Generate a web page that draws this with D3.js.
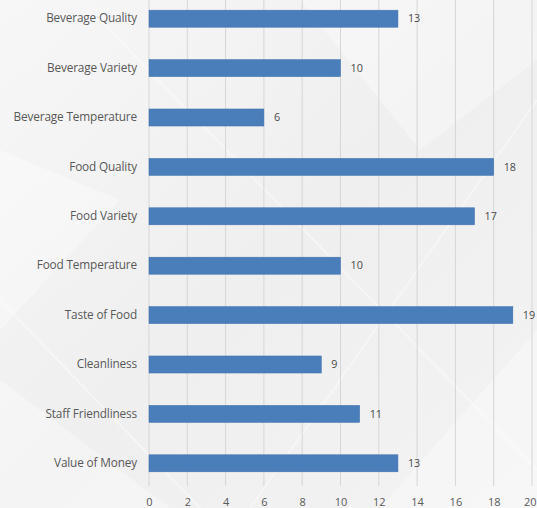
<!DOCTYPE html>
<html>
<head>
<meta charset="utf-8">
<script src="https://cdn.jsdelivr.net/npm/d3@7"></script>
<style>
  body { margin: 0; }
  svg { display: block; }
</style>
</head>
<body>
<div id="chart"></div>
<script>
"use strict"

const categories = ["Beverage Quality", "Beverage Variety", "Beverage Temperature",
  "Food Quality", "Food Variety", "Food Temperature", "Taste of Food",
  "Cleanliness", "Staff Friendliness", "Value of Money"]
const values = [13, 10, 6, 18, 17, 10, 19, 9, 11, 13]
const xTicks = [0, 2, 4, 6, 8, 10, 12, 14, 16, 18, 20]

const W = 537, H = 508
const plot = {left: 149, right: 532, top: -6, bottom: 488}
const font = "'Open Sans', 'Noto Sans', sans-serif"

const svg = d3.select("#chart").append("svg")
  .attr("width", W).attr("height", H)

// background with soft diagonal shapes
const defs = svg.append("defs")
const bg = defs.append("linearGradient").attr("id", "bg")
  .attr("x1", "0").attr("y1", "0").attr("x2", "1").attr("y2", "1")
bg.append("stop").attr("offset", "0").attr("stop-color", "#f7f7f7")
bg.append("stop").attr("offset", "0.5").attr("stop-color", "#efefef")
bg.append("stop").attr("offset", "1").attr("stop-color", "#f3f3f3")
svg.append("rect").attr("width", W).attr("height", H).attr("fill", "url(#bg)")

const shapes = [
  [[0, 150], [120, 200], [0, 330]],
  [[0, 380], [170, 508], [0, 508]],
  [[300, 0], [537, 0], [537, 60], [420, 150]],
  [[380, 508], [537, 330], [537, 508]]
]
svg.append("g").selectAll("path").data(shapes).join("path")
  .attr("d", d => "M" + d.join("L") + "Z")
  .attr("fill", "#ffffff").attr("opacity", 0.35)

const lines = [[[100, 20], [537, 470]], [[537, 100], [250, 508]], [[0, 300], [200, 508]]]
svg.append("g").selectAll("line").data(lines).join("line")
  .attr("x1", d => d[0][0]).attr("y1", d => d[0][1])
  .attr("x2", d => d[1][0]).attr("y2", d => d[1][1])
  .attr("stroke", "#ffffff").attr("stroke-width", 2).attr("opacity", 0.4)

const x = d3.scaleLinear()
  .domain([0, 20])
  .range([plot.left, plot.right])

const y = d3.scaleBand()
  .domain(categories)
  .range([plot.top, plot.bottom])
  .paddingInner(0.655)
  .paddingOuter(0.3275)

// gridlines
svg.append("g").selectAll("line").data(xTicks).join("line")
  .attr("x1", d => x(d)).attr("x2", d => x(d))
  .attr("y1", 0).attr("y2", plot.bottom - 2)
  .attr("stroke", "#d6d6d6").attr("stroke-width", 1)

// bars
svg.append("g").selectAll("rect").data(categories).join("rect")
  .attr("x", x(0))
  .attr("y", d => y(d))
  .attr("width", (d, i) => x(values[i]) - x(0))
  .attr("height", y.bandwidth())
  .attr("fill", "#4a7ebb")
  .attr("stroke", "#3f70ad").attr("stroke-width", 0.5)

// value labels
svg.append("g").selectAll("text").data(categories).join("text")
  .attr("x", (d, i) => x(values[i]) + 10)
  .attr("y", d => y(d) + y.bandwidth() / 2)
  .attr("dy", "0.35em")
  .attr("font-family", font)
  .attr("font-size", 10.8)
  .attr("fill", "#4a4a4a")
  .text((d, i) => values[i])

// category axis
const yAxis = svg.append("g")
  .attr("transform", "translate(" + (x(0) - 12) + ",0)")
  .call(d3.axisLeft(y).tickSize(0).tickPadding(0))
yAxis.select(".domain").remove()
yAxis.selectAll("text")
  .attr("font-family", font)
  .attr("font-size", 11.8)
  .attr("letter-spacing", -0.15)
  .attr("fill", "#595959")

// value axis
const xAxis = svg.append("g")
  .attr("transform", "translate(0," + plot.bottom + ")")
  .call(d3.axisBottom(x).tickValues(xTicks).tickSize(0).tickPadding(10))
xAxis.select(".domain").remove()
xAxis.selectAll("text")
  .attr("font-family", font)
  .attr("font-size", 11)
  .attr("fill", "#595959")
// keep the last tick label inside the window
xAxis.selectAll(".tick").filter(d => d === 20).select("text")
  .attr("text-anchor", "end").attr("x", W - x(20) - 1)
</script>
</body>
</html>
